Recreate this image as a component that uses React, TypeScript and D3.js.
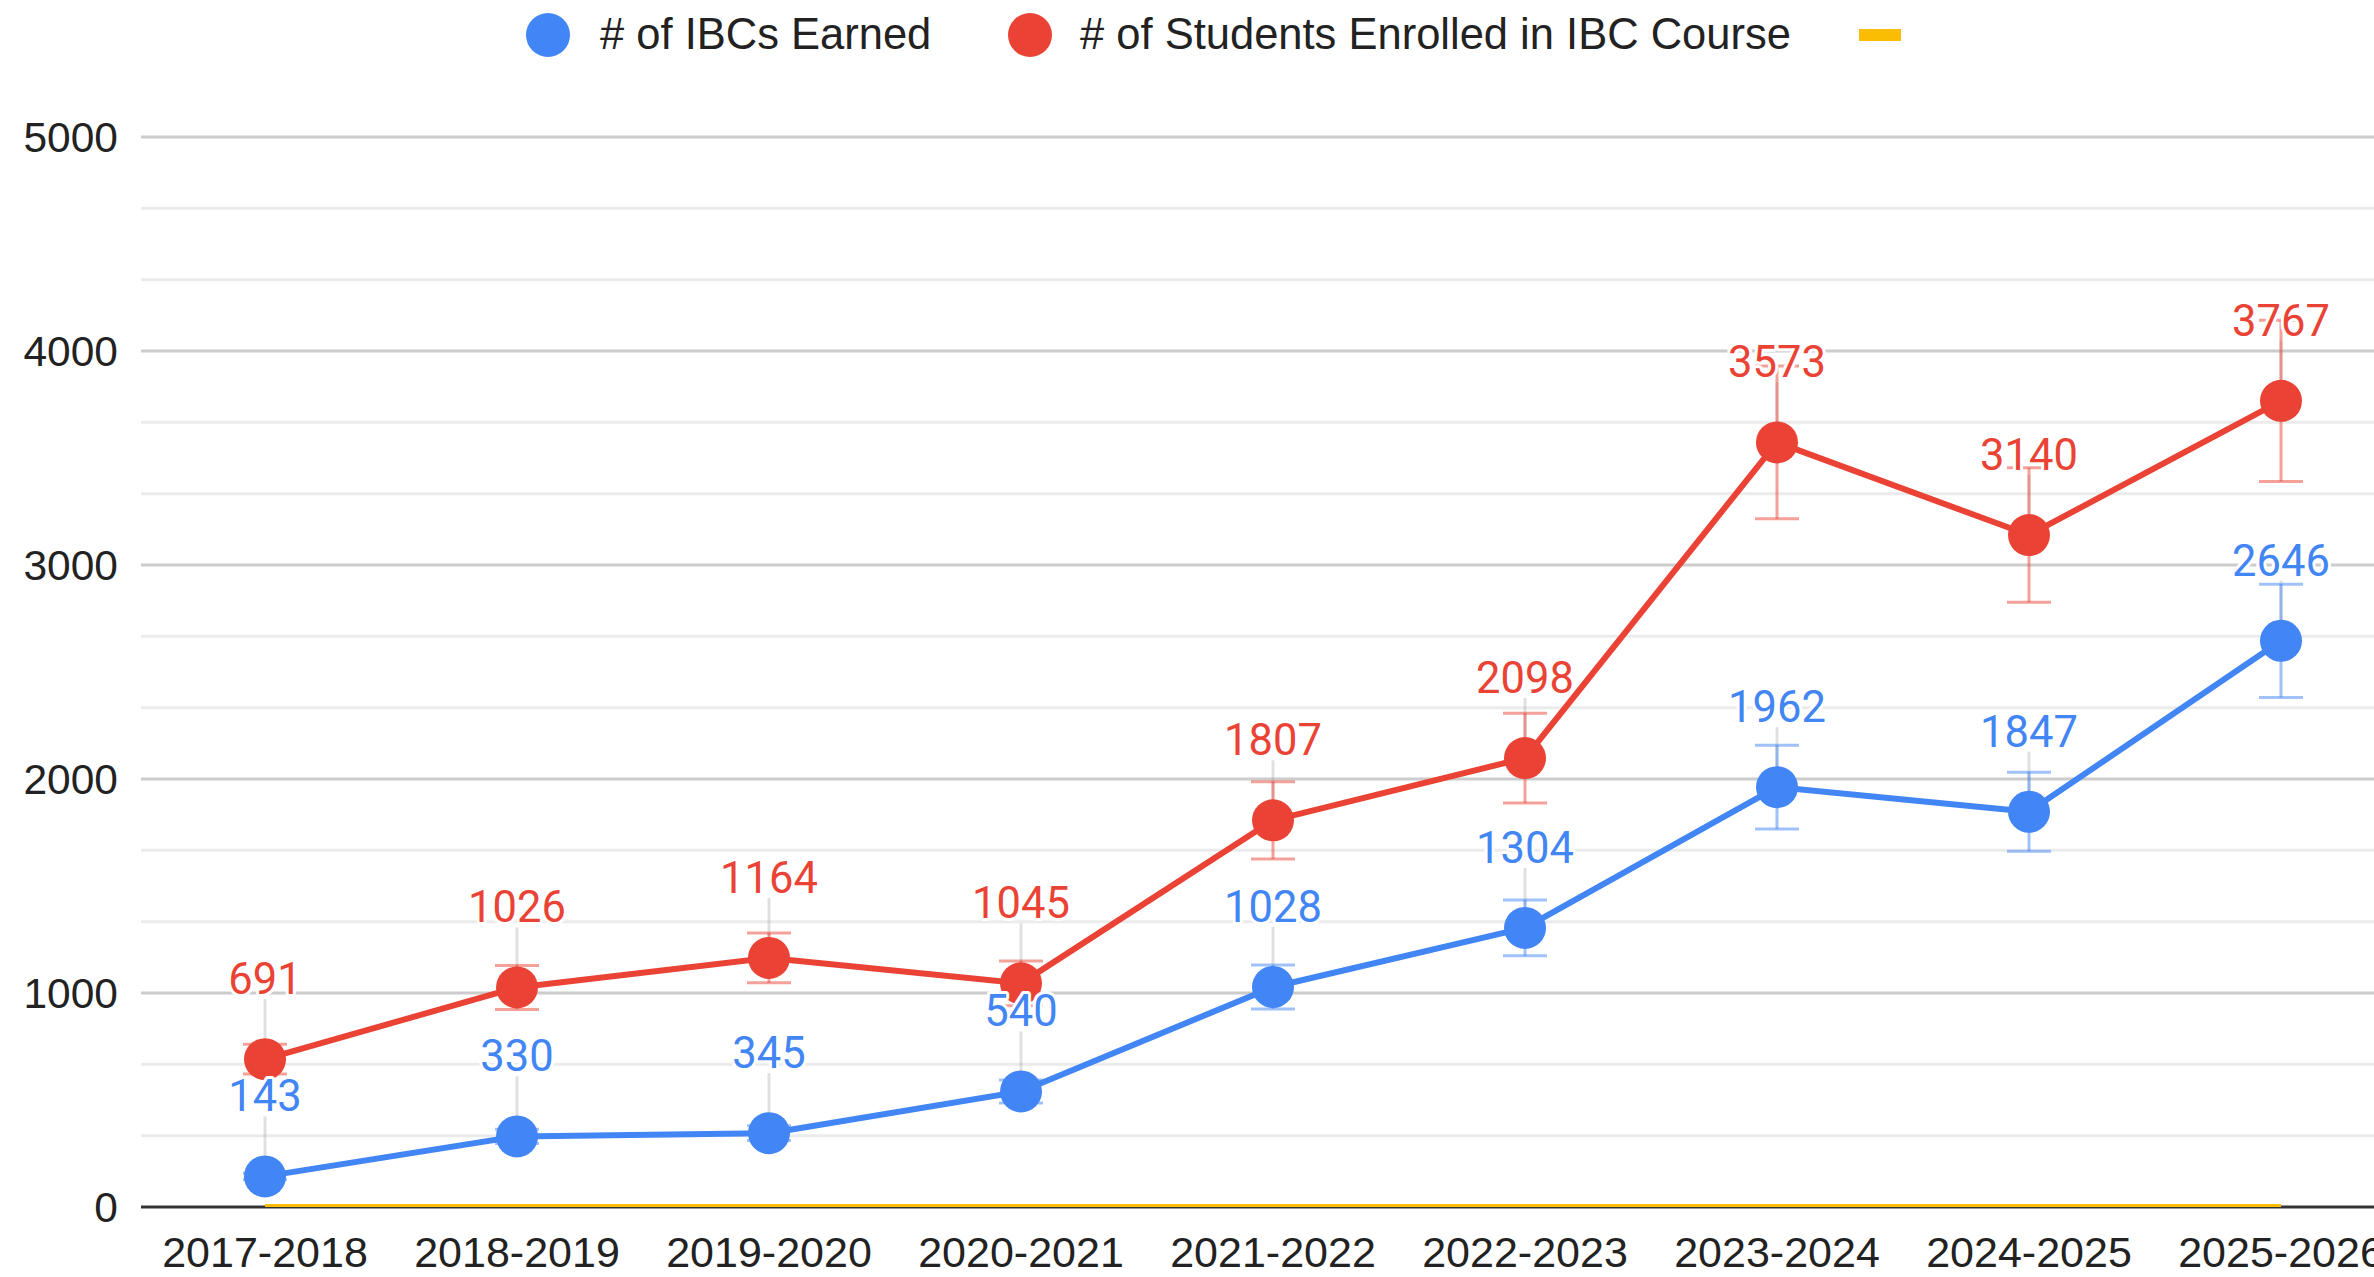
import React, { useEffect } from "react";
import * as d3 from "d3";

const categories = ["2017-2018","2018-2019","2019-2020","2020-2021","2021-2022","2022-2023","2023-2024","2024-2025","2025-2026"];
const ibcsEarned = [143, 330, 345, 540, 1028, 1304, 1962, 1847, 2646];
const studentsEnrolled = [691, 1026, 1164, 1045, 1807, 2098, 3573, 3140, 3767];
const thirdSeries = [0, 0, 0, 0, 0, 0, 0, 0, 0];
const yTicks = [0, 1000, 2000, 3000, 4000, 5000];
const seriesNames = ["# of IBCs Earned", "# of Students Enrolled in IBC Course", ""];
const errorPercent = 0.1;

const W = 2374, H = 1277;
const BLUE = "#4285f4", RED = "#ea4335", YELLOW = "#fbbc04";

export default function App() {
  useEffect(() => { document.body.style.margin = "0"; }, []);
  const x = d3.scalePoint<string>().domain(categories).range([139, 2407]).padding(0.5);
  const y = d3.scaleLinear().domain([0, 5000]).range([1207, 137]);
  const minor: number[] = [];
  for (let i = 0; i < yTicks.length - 1; i++) {
    const step = (yTicks[i + 1] - yTicks[i]) / 3;
    minor.push(yTicks[i] + step, yTicks[i] + 2 * step);
  }
  const line = d3.line<number>().x((_, i) => x(categories[i])!).y(d => y(d));
  const series = [
    { name: seriesNames[0], values: ibcsEarned, color: BLUE },
    { name: seriesNames[1], values: studentsEnrolled, color: RED },
  ];
  const left = 141;
  const labelFont = "Roboto, 'Noto Sans', Arial, sans-serif";
  const axisFont = "'Liberation Sans', Arial, sans-serif";
  return (
    <svg width={W} height={H} style={{ display: "block", background: "#fff" }}>
      {minor.map(v => (
        <line key={"m" + v} x1={left} x2={W} y1={y(v)} y2={y(v)} stroke="#ebebeb" strokeWidth={3} />
      ))}
      {yTicks.filter(v => v !== 0).map(v => (
        <line key={"g" + v} x1={left} x2={W} y1={y(v)} y2={y(v)} stroke="#cccccc" strokeWidth={3} />
      ))}
      {yTicks.map(v => (
        <text key={"t" + v} x={118} y={y(v)} dy="0.36em" textAnchor="end" fontFamily={axisFont} fontSize={42.5} fill="#222">{v}</text>
      ))}
      <line x1={left} x2={W} y1={y(0)} y2={y(0)} stroke="#333" strokeWidth={3} />
      <path d={line(thirdSeries) || ""} fill="none" stroke={YELLOW} strokeWidth={3} transform="translate(0,-1.5)" />
      {series.map(s => s.values.map((v, i) => (
        <line key={s.name + "st" + i} x1={x(categories[i])} x2={x(categories[i])} y1={y(v)} y2={y(v) - 60} stroke="#999" strokeOpacity={0.3} strokeWidth={3} />
      )))}
      {series.map(s => s.values.map((v, i) => {
        const cx = x(categories[i])!;
        const lo = y(v * (1 - errorPercent)), hi = y(v * (1 + errorPercent));
        return (
          <g key={s.name + "e" + i} stroke={s.color} strokeOpacity={0.5} strokeWidth={3}>
            <line x1={cx} x2={cx} y1={lo} y2={hi} />
            <line x1={cx - 22} x2={cx + 22} y1={lo} y2={lo} />
            <line x1={cx - 22} x2={cx + 22} y1={hi} y2={hi} />
          </g>
        );
      }))}
      {series.map(s => (
        <path key={s.name + "l"} d={line(s.values) || ""} fill="none" stroke={s.color} strokeWidth={6} strokeLinejoin="round" />
      ))}
      {series.map(s => s.values.map((v, i) => (
        <circle key={s.name + "c" + i} cx={x(categories[i])} cy={y(v)} r={21} fill={s.color} />
      )))}
      {series.map(s => s.values.map((v, i) => (
        <text key={s.name + "d" + i} x={x(categories[i])} y={y(v) - 65} textAnchor="middle" fontFamily={labelFont} fontSize={43.5}
          fill={s.color} stroke="#fff" strokeWidth={6} strokeLinejoin="round" style={{ paintOrder: "stroke" }}>{v}</text>
      )))}
      {categories.map(c => (
        <text key={c} x={x(c)} y={1267} textAnchor="middle" fontFamily={axisFont} fontSize={43} fill="#222">{c}</text>
      ))}
      <circle cx={548} cy={35} r={22} fill={BLUE} />
      <text x={600} y={49} fontFamily={axisFont} fontSize={43.5} fill="#222">{seriesNames[0]}</text>
      <circle cx={1030} cy={35} r={22} fill={RED} />
      <text x={1080} y={49} fontFamily={axisFont} fontSize={43.5} fill="#222">{seriesNames[1]}</text>
      <rect x={1859} y={29} width={42} height={12} fill={YELLOW} />
    </svg>
  );
}
